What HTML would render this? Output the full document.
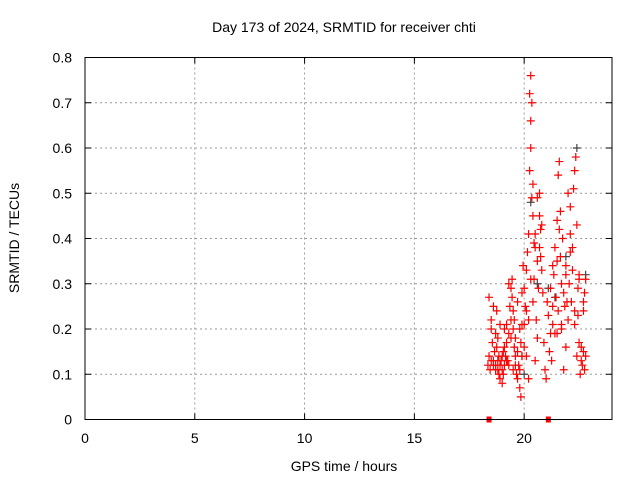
<!DOCTYPE html>
<html><head><meta charset="utf-8"><style>
body{margin:0;background:#fff;}
svg{display:block;font-family:"Liberation Sans",sans-serif;}
</style></head><body>
<svg id="chart" width="640" height="480" viewBox="0 0 640 480" xmlns="http://www.w3.org/2000/svg">
<text x="344" y="32" font-size="14" text-anchor="middle">Day 173 of 2024, SRMTID for receiver chti</text>
<text x="344" y="471" font-size="14" text-anchor="middle">GPS time / hours</text>
<text transform="translate(19,238) rotate(-90)" font-size="14" text-anchor="middle">SRMTID / TECUs</text>
<g id="grid"></g>
<g id="ticks"></g>
<g id="marks"></g>
<rect x="85" y="57.5" width="527" height="362" fill="none" stroke="#000" stroke-width="1"/>
</svg>
<script>
const xTicks=[0,5,10,15,20];
const yTicks=[0,0.1,0.2,0.3,0.4,0.5,0.6,0.7,0.8];
const yTickLabels=["0","0.1","0.2","0.3","0.4","0.5","0.6","0.7","0.8"];
const redHours=[18.35,18.4,18.45,18.5,18.5,18.55,18.6,18.6,18.65,18.7,18.7,18.75,18.75,18.8,18.8,18.85,18.85,18.9,18.9,18.95,19.0,19.0,19.05,19.05,19.1,19.1,19.15,19.2,19.2,19.25,19.3,19.3,19.35,19.4,19.4,19.45,19.45,19.5,19.5,19.55,19.55,19.6,19.6,19.65,19.7,19.7,19.75,19.8,19.8,19.85,19.85,19.9,19.9,19.95,20.0,20.0,20.05,20.1,20.1,20.15,20.2,20.2,20.25,20.25,20.3,20.3,20.3,20.35,20.35,20.4,20.4,20.45,20.45,20.5,20.5,20.55,20.6,20.6,20.65,20.7,20.7,20.75,20.75,20.8,20.85,20.9,20.95,21.0,21.05,21.1,21.15,21.2,21.2,21.25,21.3,21.3,21.35,21.4,21.4,21.45,21.5,21.5,21.55,21.55,21.6,21.6,21.65,21.65,21.7,21.7,21.75,21.8,21.8,21.85,21.9,21.9,21.95,22.0,22.0,22.05,22.1,22.1,22.15,22.2,22.2,22.25,22.3,22.3,22.35,22.4,22.4,22.45,22.45,22.5,22.5,22.55,22.6,22.6,22.65,22.7,22.7,22.75,22.75,22.8,22.8,18.4,18.5,18.6,18.7,18.8,18.9,19.0,19.1,19.2,19.3,19.4,19.5,19.6,19.7,19.8,19.9,20.0,20.1,20.2,20.3,20.4,20.5,20.6,20.7,20.8,21.3,21.5,21.7,21.9,22.1,22.3,22.5,22.7];
const redValues=[0.12,0.14,0.11,0.13,0.22,0.17,0.25,0.12,0.15,0.19,0.11,0.16,0.24,0.13,0.18,0.10,0.14,0.12,0.09,0.13,0.08,0.11,0.15,0.10,0.12,0.20,0.14,0.17,0.21,0.13,0.30,0.19,0.25,0.29,0.22,0.31,0.27,0.20,0.24,0.16,0.22,0.12,0.18,0.10,0.09,0.15,0.12,0.07,0.11,0.05,0.17,0.14,0.21,0.34,0.29,0.16,0.25,0.33,0.24,0.37,0.41,0.22,0.55,0.72,0.66,0.60,0.76,0.70,0.49,0.45,0.52,0.31,0.39,0.41,0.13,0.22,0.35,0.18,0.29,0.50,0.45,0.42,0.36,0.33,0.28,0.17,0.11,0.09,0.26,0.23,0.15,0.19,0.29,0.13,0.21,0.25,0.32,0.19,0.38,0.27,0.35,0.44,0.24,0.54,0.42,0.57,0.36,0.46,0.20,0.30,0.40,0.11,0.28,0.25,0.34,0.16,0.26,0.50,0.22,0.30,0.41,0.47,0.26,0.38,0.33,0.51,0.55,0.21,0.58,0.43,0.14,0.23,0.29,0.17,0.32,0.10,0.13,0.16,0.12,0.24,0.15,0.11,0.28,0.14,0.31,0.27,0.20,0.13,0.12,0.11,0.21,0.14,0.16,0.13,0.12,0.18,0.11,0.14,0.26,0.20,0.28,0.21,0.14,0.09,0.31,0.26,0.38,0.49,0.38,0.43,0.34,0.19,0.21,0.32,0.37,0.24,0.31,0.26,0.14];
const greyHours=[20.0,20.3,20.6,21.4,21.9,22.4,22.8,19.9,21.1];
const greyValues=[0.10,0.48,0.30,0.27,0.36,0.60,0.32,0.14,0.29];
const zeroHours=[18.4,21.1];
const zeroValues=[0,0];

const X0=85,X1=612,Y0=419.5,Y1=57.5;
const sx=h=>X0+h/24*(X1-X0);
const sy=v=>Y0-v/0.8*(Y0-Y1);
const NS="http://www.w3.org/2000/svg";
const mk=(t,a,p)=>{const e=document.createElementNS(NS,t);for(const k in a)e.setAttribute(k,a[k]);p.appendChild(e);return e;};
const grid=document.getElementById('grid'),ticks=document.getElementById('ticks'),marks=document.getElementById('marks');
xTicks.forEach(t=>{
  const x=sx(t);
  if(t>0){const g=mk('line',{x1:x,x2:x,y1:Y1,y2:Y0,stroke:'#999','stroke-dasharray':'2,3','stroke-width':1},grid);
  
  }
  const l=mk('text',{x:x,y:443,'font-size':14,'text-anchor':'middle'},ticks);l.textContent=t;
  
  
  mk('line',{x1:x,x2:x,y1:Y0,y2:Y0-6,stroke:'#000'},ticks);
  mk('line',{x1:x,x2:x,y1:Y1,y2:Y1+6,stroke:'#000'},ticks);
});
yTicks.forEach((t,i)=>{
  const y=sy(t);
  if(t>0&&t<0.8){const g=mk('line',{x1:X0,x2:X1,y1:y,y2:y,stroke:'#999','stroke-dasharray':'2,3','stroke-width':1},grid);
  
  }
  const l=mk('text',{x:72,y:y+5,'font-size':14,'text-anchor':'end'},ticks);l.textContent=yTickLabels[i];
  
  
  mk('line',{x1:X0,x2:X0+6,y1:y,y2:y,stroke:'#000'},ticks);
  mk('line',{x1:X1,x2:X1-6,y1:y,y2:y,stroke:'#000'},ticks);
});
function plus(h,v,c){
  const x=sx(h),y=sy(v);
  const p=mk('path',{d:`M${x-4} ${y}H${x+4}M${x} ${y-4}V${y+4}`,stroke:c,'stroke-width':1.2,fill:'none'},marks);
  return p;
}
greyHours.forEach((h,i)=>{const p=plus(h,greyValues[i],'#444');
  
  });
redHours.forEach((h,i)=>{const p=plus(h,redValues[i],'#f00');
  
  });
zeroHours.forEach((h,i)=>{const r=mk('rect',{x:sx(h)-2.5,y:sy(zeroValues[i])-3,width:5,height:6,fill:'#f00'},marks);
  
  });
</script>
</body></html>
